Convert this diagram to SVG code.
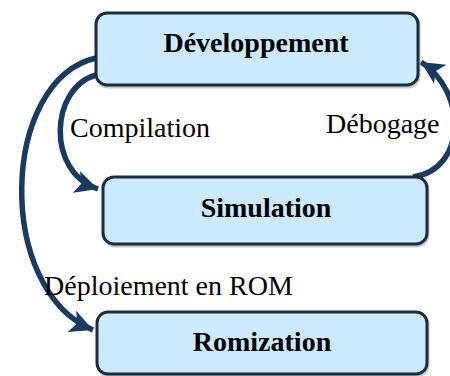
<svg xmlns="http://www.w3.org/2000/svg" width="450" height="376" viewBox="0 0 450 376">
<defs>
<style>
.box{fill:#cceafd;stroke:#1c2b3d;stroke-width:3}
.shadow{fill:none;stroke:#9aa7b4;stroke-width:3;opacity:0.6}
.title{font-family:"Liberation Serif","Times New Roman",serif;font-weight:bold;font-size:28px;fill:#000;text-anchor:middle}
.lbl{font-family:"Liberation Serif","Times New Roman",serif;font-size:28px;fill:#000}
.conn{fill:none;stroke:#1b3a60;stroke-width:5.5}
</style>
<marker id="ah" markerUnits="userSpaceOnUse" markerWidth="26" markerHeight="26" refX="21" refY="10.5" orient="auto" viewBox="0 0 24 21">
<path d="M0,0 L21,10.5 L0,21 L5,10.5 Z" fill="#1b3a60"/>
</marker>
</defs>
<g id="connectors">
<path class="conn" d="M96,75 C 50,88 46,172 98,189" marker-end="url(#ah)"/>
<path class="conn" d="M96,58 C 0,80 -5,290 93,330" marker-end="url(#ah)"/>
<path class="conn" d="M413,177 C 466,170 468,92 421,62" marker-end="url(#ah)"/>
</g>
<g id="label-compilation"><text class="lbl" x="70" y="137">Compilation</text></g>
<g id="label-debogage"><text class="lbl" x="326" y="133">Débogage</text></g>
<g id="label-deploiement"><text class="lbl" x="44" y="295">Déploiement en ROM</text></g>
<g id="node-developpement">
<rect class="shadow" x="97" y="14" width="322" height="73" rx="11"/>
<rect class="box" x="96" y="13" width="322" height="72" rx="11"/>
<text class="title" x="256" y="52">Développement</text>
</g>
<g id="node-simulation">
<rect class="shadow" x="104" y="178" width="324" height="68" rx="11"/>
<rect class="box" x="103" y="177" width="324" height="67" rx="11"/>
<text class="title" x="266" y="217">Simulation</text>
</g>
<g id="node-romization">
<rect class="shadow" x="98" y="313" width="330" height="63" rx="11"/>
<rect class="box" x="97" y="312" width="330" height="62" rx="11"/>
<text class="title" x="262" y="351">Romization</text>
</g>
</svg>
